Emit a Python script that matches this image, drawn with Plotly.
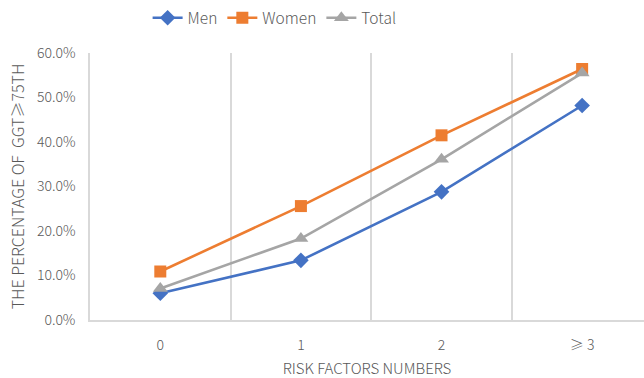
import plotly.graph_objects as go

# Share of participants with GGT >= 75th percentile, by number of risk factors
categories = ["0", "1", "2", "≥3"]
tick_labels = ["0", "1", "2", "≥ 3"]
men = [6.0, 13.4, 28.8, 48.2]
women = [10.9, 25.6, 41.5, 56.4]
total = [7.1, 18.3, 36.1, 55.5]
y_ticks = [0, 10, 20, 30, 40, 50, 60]
y_tick_labels = [f"{v:.1f}%" for v in y_ticks]

series = [
    ("Men", men, "#4472C4", "diamond", 12),
    ("Women", women, "#ED7D31", "square", 12),
    ("Total", total, "#A5A5A5", "triangle-up", 13),
]

x_pos = list(range(len(categories)))

fig = go.Figure()
for name, values, color, symbol, size in series:
    fig.add_trace(go.Scatter(
        x=x_pos, y=values, name=name, mode="lines+markers",
        line=dict(color=color, width=2.6),
        marker=dict(symbol=symbol, size=size, color=color, line=dict(width=0)),
    ))

font_family = "Noto Sans CJK SC, DejaVu Sans, sans-serif"
text_color = "#595959"

fig.update_layout(
    width=644, height=378,
    margin=dict(l=90, r=0, t=53, b=56),
    paper_bgcolor="white", plot_bgcolor="white",
    font=dict(family=font_family, size=14, color=text_color, weight=300),
    legend=dict(orientation="h", x=0.104, xanchor="left", y=0.997, yanchor="top",
                yref="container",
                font=dict(size=15.5, color=text_color, weight=300),
                traceorder="normal"),
    showlegend=True,
)

fig.update_xaxes(
    range=[-0.5, 3.44],
    tickmode="array", tickvals=x_pos, ticktext=tick_labels,
    showgrid=False, zeroline=False,
    showline=True, linecolor="#D9D9D9", linewidth=1.5,
    ticks="", ticklabelstandoff=11,
    minor=dict(tickmode="array", tickvals=[0.5, 1.5, 2.5], showgrid=True,
               gridcolor="#D9D9D9", gridwidth=1.5, ticks=""),
    title=dict(text="RISK FACTORS NUMBERS", font=dict(size=15, color=text_color, weight=300), standoff=14),
)
fig.update_yaxes(
    range=[0, 60], tickmode="array", tickvals=y_ticks, ticktext=y_tick_labels,
    showgrid=False, zeroline=False,
    showline=True, linecolor="#D9D9D9", linewidth=1.5,
    ticks="", ticklabelstandoff=10,
    title=dict(text="THE PERCENTAGE OF  GGT≥75TH", font=dict(size=16, color=text_color, weight=300), standoff=8),
)

fig.write_html("out.html")
